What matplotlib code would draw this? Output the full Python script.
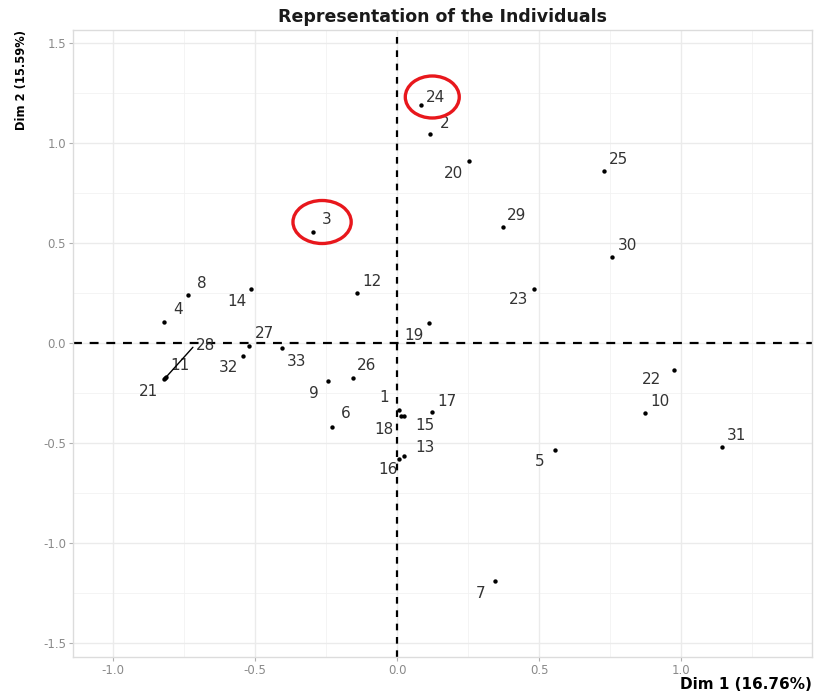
import matplotlib
matplotlib.use("Agg")
import matplotlib.pyplot as plt
from matplotlib.patches import Ellipse
import numpy as np

labels = ["1","2","3","4","5","6","7","8","9","10","11","12","13","14","15","16","17",
          "18","19","20","21","22","23","24","25","26","27","28","29","30","31","32","33"]
dim1 = [0.007, 0.116, -0.296, -0.820, 0.556, -0.229, 0.345, -0.736, -0.243, 0.873, -0.813,
        -0.141, 0.025, -0.514, 0.025, 0.007, 0.123, 0.014, 0.113, 0.254, -0.820, 0.975,
        0.482, 0.085, 0.729, -0.155, -0.521, -0.816, 0.373, 0.757, 1.144, -0.542, -0.405]
dim2 = [-0.335, 1.045, 0.555, 0.105, -0.535, -0.420, -1.190, 0.240, -0.190, -0.350, -0.170,
        0.250, -0.565, 0.270, -0.365, -0.580, -0.345, -0.365, 0.100, 0.910, -0.180, -0.135,
        0.270, 1.190, 0.860, -0.175, -0.015, -0.175, 0.580, 0.430, -0.520, -0.065, -0.025]
xticks = [-1.0, -0.5, 0.0, 0.5, 1.0]
yticks = [-1.5, -1.0, -0.5, 0.0, 0.5, 1.0, 1.5]
highlight = ["24", "3"]

# label offsets in pixels (layout only)
offsets = {"1": (-15, 12), "2": (15, 11), "3": (14, 12), "4": (14, 12), "5": (-15, -12),
           "6": (14, 13), "7": (-14, -13), "8": (14, 12), "9": (-14, -13), "10": (15, 11),
           "11": (14, 11), "12": (15, 11), "13": (21, 9), "14": (-14, -12), "15": (21, -9),
           "16": (-11, -10), "17": (15, 11), "18": (-17, -13), "19": (-15, -12), "20": (-16, -13),
           "21": (-16, -13), "22": (-22, -10), "23": (-15, -11), "24": (14, 8), "25": (14, 12),
           "26": (14, 12), "27": (15, 12), "28": (40, 32), "29": (14, 12), "30": (15, 12),
           "31": (15, 11), "32": (-15, -12), "33": (15, -13)}

fig = plt.figure(figsize=(8.16, 6.96), dpi=100)
ax = fig.add_axes([73/816, 1-657/696, (812-73)/816, (657-30)/696])
ax.set_xlim(-1.141, 1.461)
ax.set_ylim(-1.57, 1.565)

# grid
for v in np.arange(-1.25, 1.5, 0.5):
    ax.axvline(v, color="#f2f2f2", lw=0.6, zorder=0)
for v in np.arange(-1.25, 1.5, 0.5):
    ax.axhline(v, color="#f2f2f2", lw=0.6, zorder=0)
for v in xticks:
    ax.axvline(v, color="#ebebeb", lw=1.0, zorder=0)
for v in yticks:
    ax.axhline(v, color="#ebebeb", lw=1.0, zorder=0)

ax.axhline(0, color="black", lw=1.6, ls=(0, (4, 3.5)), zorder=1)
ax.axvline(0, color="black", lw=1.6, ls=(0, (3, 3)), zorder=1)

ax.scatter(dim1, dim2, s=10, color="black", zorder=3, linewidths=0)

for lab, x, y in zip(labels, dim1, dim2):
    dx, dy = offsets[lab]
    if lab == "28":
        ax.annotate(lab, (x, y), xytext=(dx, dy), textcoords="offset pixels",
                    ha="center", va="center", fontsize=11, color="#333333",
                    arrowprops=dict(arrowstyle="-", color="black", lw=1.0,
                                    shrinkA=0, shrinkB=1, relpos=(-0.05, 0.55)), zorder=4)
    else:
        ax.annotate(lab, (x, y), xytext=(dx, dy), textcoords="offset pixels",
                    ha="center", va="center", fontsize=11, color="#333333", zorder=4)

# red highlight circles
circ = {"24": (0.124, 1.23, 0.19, 0.21), "3": (-0.264, 0.605, 0.205, 0.215)}
for lab in highlight:
    cx, cy, w, h = circ[lab]
    ax.add_patch(Ellipse((cx, cy), w, h, fill=False, ec="#e8171c", lw=2.4, zorder=5))

ax.set_xticks(xticks)
ax.set_yticks(yticks)
ax.set_xticklabels([f"{t:.1f}" for t in xticks])
ax.set_yticklabels([f"{t:.1f}" for t in yticks])
ax.tick_params(colors="#b0b0b0", labelcolor="#8a8a8a", labelsize=8.5, length=3, width=0.8, pad=2)
for s in ax.spines.values():
    s.set_color("#dcdcdc")
    s.set_linewidth(1.0)

ax.set_title("Representation of the Individuals", fontsize=12.5, fontweight="bold",
             color="#1a1a1a", pad=6)
ax.set_xlabel("Dim 1 (16.76%)", fontsize=11, fontweight="bold", loc="right", labelpad=0)
ax.set_ylabel("Dim 2 (15.59%)", fontsize=8.3, fontweight="bold", loc="top", labelpad=11)

fig.savefig("out.png", dpi=100)
